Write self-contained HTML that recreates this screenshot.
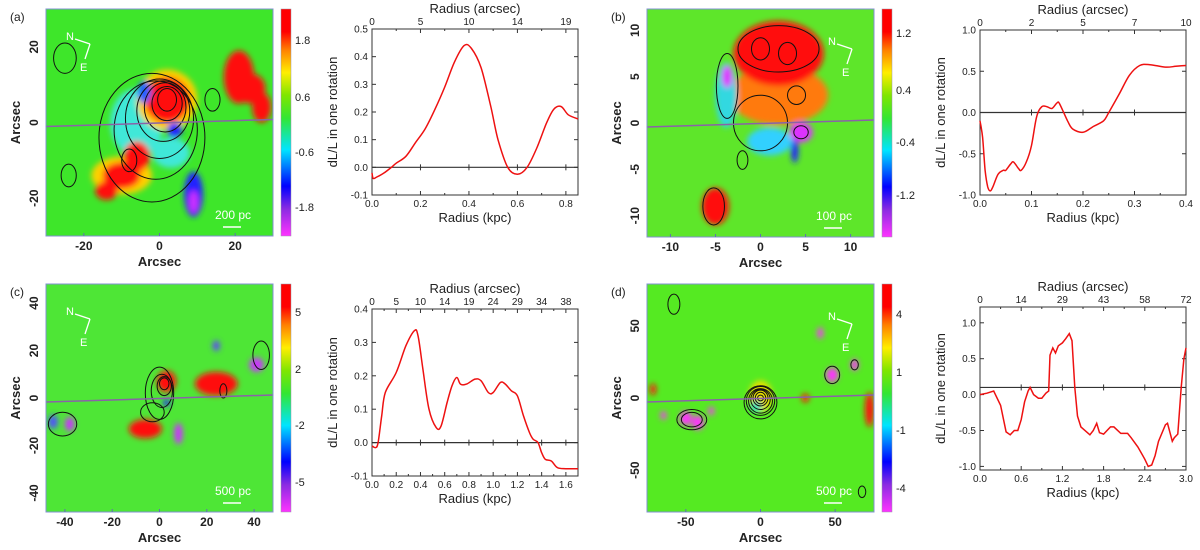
<!DOCTYPE html>
<html><head><meta charset="utf-8"><style>
html,body{margin:0;padding:0;background:#fff;}
svg{display:block;font-family:"Liberation Sans",sans-serif;}
</style></head><body>
<svg id="fig" width="1200" height="550" viewBox="0 0 1200 550" xmlns="http://www.w3.org/2000/svg">
<defs>
<filter id="blur" x="-50%" y="-50%" width="200%" height="200%"><feGaussianBlur stdDeviation="3"/></filter>
<linearGradient id="cbar" x1="0" y1="1" x2="0" y2="0">
<stop offset="0" stop-color="#ff33ff"/><stop offset="0.12" stop-color="#8a2be2"/><stop offset="0.22" stop-color="#0000ff"/>
<stop offset="0.38" stop-color="#00e5ff"/><stop offset="0.52" stop-color="#33e633"/><stop offset="0.62" stop-color="#7fe600"/>
<stop offset="0.72" stop-color="#ffee00"/><stop offset="0.82" stop-color="#ff8000"/><stop offset="0.9" stop-color="#ff0000"/><stop offset="1" stop-color="#ff0000"/>
</linearGradient>
</defs>
</svg>
<script>
const NS='http://www.w3.org/2000/svg';
const fig=document.getElementById('fig');
function mk(tag,attrs,parent,text){const e=document.createElementNS(NS,tag);for(const k in attrs)e.setAttribute(k,attrs[k]);if(text!==undefined)e.textContent=text;(parent||fig).appendChild(e);return e;}

/* ---------- line chart data ---------- */
const radiusA=[0,0.005,0.02,0.05,0.08,0.1,0.14,0.18,0.22,0.26,0.3,0.34,0.38,0.41,0.45,0.49,0.52,0.56,0.6,0.64,0.68,0.72,0.75,0.78,0.81,0.85];
const dlA=[-0.02,-0.04,-0.035,-0.02,0,0.015,0.04,0.09,0.14,0.21,0.29,0.38,0.44,0.43,0.36,0.22,0.1,0.0,-0.025,0.0,0.07,0.16,0.21,0.22,0.19,0.175];
const radiusB=[0,0.005,0.01,0.015,0.02,0.025,0.035,0.045,0.05,0.06,0.065,0.075,0.08,0.09,0.1,0.11,0.12,0.13,0.14,0.15,0.155,0.17,0.18,0.2,0.22,0.24,0.25,0.27,0.29,0.31,0.33,0.36,0.38,0.4];
const dlB=[-0.1,-0.3,-0.7,-0.9,-0.95,-0.9,-0.75,-0.7,-0.7,-0.62,-0.6,-0.68,-0.7,-0.6,-0.4,-0.05,0.07,0.07,0.05,0.12,0.1,-0.1,-0.2,-0.24,-0.17,-0.1,0,0.22,0.45,0.57,0.58,0.55,0.56,0.57];
const radiusC=[0,0.03,0.05,0.08,0.11,0.2,0.28,0.35,0.38,0.42,0.47,0.53,0.57,0.62,0.66,0.7,0.73,0.78,0.85,0.9,0.96,1.0,1.06,1.1,1.15,1.2,1.25,1.3,1.33,1.37,1.4,1.43,1.48,1.53,1.6,1.7];
const dlC=[-0.01,-0.015,0.0,0.08,0.15,0.21,0.29,0.335,0.32,0.22,0.1,0.045,0.05,0.12,0.17,0.195,0.175,0.175,0.19,0.185,0.15,0.15,0.18,0.175,0.155,0.14,0.08,0.03,0.01,0.0,-0.03,-0.05,-0.055,-0.075,-0.078,-0.078];
const radiusD=[0,0.1,0.2,0.3,0.38,0.44,0.5,0.55,0.6,0.65,0.7,0.73,0.78,0.85,0.9,0.96,1.0,1.02,1.06,1.1,1.14,1.2,1.25,1.3,1.34,1.38,1.42,1.47,1.6,1.65,1.7,1.74,1.8,1.9,1.95,2.05,2.15,2.2,2.3,2.4,2.45,2.5,2.55,2.6,2.7,2.73,2.8,2.83,2.88,2.93,2.97,3.0];
const dlD=[0,0.02,0.05,-0.15,-0.52,-0.56,-0.5,-0.5,-0.35,-0.1,0.05,0.1,0,-0.05,-0.05,0.02,0.05,0.55,0.65,0.58,0.68,0.72,0.78,0.85,0.75,0.1,-0.3,-0.45,-0.56,-0.5,-0.4,-0.53,-0.55,-0.45,-0.45,-0.54,-0.54,-0.6,-0.73,-0.9,-1.0,-0.98,-0.85,-0.65,-0.42,-0.4,-0.65,-0.6,-0.55,0.1,0.5,0.65];
const xTicksA=[0,0.2,0.4,0.6,0.8], topLabelsA=['0','5','10','14','19'], yTicksA=[-0.1,0,0.1,0.2,0.3,0.4,0.5];
const xTicksB=[0,0.1,0.2,0.3,0.4], topLabelsB=['0','2','5','7','10'], yTicksB=[-1,-0.5,0,0.5,1];
const xTicksC=[0,0.2,0.4,0.6,0.8,1.0,1.2,1.4,1.6], topLabelsC=['0','5','10','14','19','24','29','34','38'], yTicksC=[-0.1,0,0.1,0.2,0.3,0.4];
const xTicksD=[0,0.6,1.2,1.8,2.4,3.0], topLabelsD=['0','14','29','43','58','72'], yTicksD=[-1,-0.5,0,0.5,1];

function smoothPath(pts){
  let d='M'+pts[0][0].toFixed(1)+' '+pts[0][1].toFixed(1);
  for(let i=0;i<pts.length-1;i++){
    const p0=pts[Math.max(0,i-1)],p1=pts[i],p2=pts[i+1],p3=pts[Math.min(pts.length-1,i+2)];
    const c1=[p1[0]+(p2[0]-p0[0])/6,p1[1]+(p2[1]-p0[1])/6], c2=[p2[0]-(p3[0]-p1[0])/6,p2[1]-(p3[1]-p1[1])/6];
    d+=' C'+c1[0].toFixed(1)+' '+c1[1].toFixed(1)+' '+c2[0].toFixed(1)+' '+c2[1].toFixed(1)+' '+p2[0].toFixed(1)+' '+p2[1].toFixed(1);
  }
  return d;
}

function lineChart(id,box,xr,yr,xs,ys,xt,topL,yt,xdec,ydec,hline,smooth){
  const g=mk('g',{},fig);  
  const X=v=>box.x+(v-xr[0])/(xr[1]-xr[0])*box.w, Y=v=>box.y+box.h-(v-yr[0])/(yr[1]-yr[0])*box.h;
  const fr=mk('rect',{x:box.x,y:box.y,width:box.w,height:box.h,fill:'none',stroke:'#333','stroke-width':1},g);
   
  const zl=mk('line',{x1:box.x,x2:box.x+box.w,y1:Y(hline),y2:Y(hline),stroke:'#333','stroke-width':1.2},g);
   
  xt.forEach((v,i)=>{
    mk('line',{x1:X(v),x2:X(v),y1:box.y+box.h,y2:box.y+box.h-4,stroke:'#333'},g);
    mk('line',{x1:X(v),x2:X(v),y1:box.y,y2:box.y+4,stroke:'#333'},g);
    mk('line',{x1:X(v),x2:X(v),y1:Y(hline)-3,y2:Y(hline)+3,stroke:'#333'},g);
    const t=mk('text',{x:X(v),y:box.y+box.h+12,'font-size':10,'text-anchor':'middle',fill:'#222'},g,v.toFixed(xdec));
     
    const tt=mk('text',{x:X(v),y:box.y-4,'font-size':10,'text-anchor':'middle',fill:'#222'},g,topL[i]);
     
    if(i<xt.length-1){const m=(v+xt[i+1])/2;
      mk('line',{x1:X(m),x2:X(m),y1:box.y+box.h,y2:box.y+box.h-2,stroke:'#333'},g);
      mk('line',{x1:X(m),x2:X(m),y1:box.y,y2:box.y+2,stroke:'#333'},g);}
  });
  yt.forEach((v,i)=>{
    mk('line',{x1:box.x,x2:box.x+4,y1:Y(v),y2:Y(v),stroke:'#333'},g);
    mk('line',{x1:box.x+box.w,x2:box.x+box.w-4,y1:Y(v),y2:Y(v),stroke:'#333'},g);
    const t=mk('text',{x:box.x-4,y:Y(v)+3.5,'font-size':10,'text-anchor':'end',fill:'#222'},g,v.toFixed(ydec));
     
  });
  const xl=mk('text',{x:box.x+box.w/2,y:box.y+box.h+27,'font-size':13,'text-anchor':'middle',fill:'#222'},g,'Radius (kpc)');
   
  const tl=mk('text',{x:box.x+box.w/2,y:box.y-16,'font-size':13,'text-anchor':'middle',fill:'#222'},g,'Radius (arcsec)');
   
  const cx=box.x-35, cy=box.y+box.h/2;
  const yl=mk('text',{x:cx,y:cy,'font-size':13,'text-anchor':'middle',fill:'#222',transform:`rotate(-90 ${cx} ${cy})`},g,'dL/L in one rotation');
   
  const pts=xs.map((v,i)=>[X(v),Y(ys[i])]);
  const d=smooth?smoothPath(pts):pts.map((p,i)=>(i?'L':'M')+p[0].toFixed(1)+' '+p[1].toFixed(1)).join(' ');
  const p=mk('path',{d:d,fill:'none',stroke:'#ee1111','stroke-width':1.5},g);
   
}
lineChart('a',{x:372,y:29,w:206,h:166},[0,0.85],[-0.1,0.5],radiusA,dlA,xTicksA,topLabelsA,yTicksA,1,1,0,true);
lineChart('b',{x:980,y:30,w:206,h:165},[0,0.4],[-1,1],radiusB,dlB,xTicksB,topLabelsB,yTicksB,1,1,0,true);
lineChart('c',{x:372,y:309,w:206,h:167},[0,1.7],[-0.1,0.4],radiusC,dlC,xTicksC,topLabelsC,yTicksC,1,1,0,true);
lineChart('d',{x:980,y:307,w:206,h:163},[0,3.0],[-1.05,1.22],radiusD,dlD,xTicksD,topLabelsD,yTicksD,1,1,0.1,false);

/* ---------- maps ---------- */
const blobsA=[[-6,0,7,9,'#3fe8d8'],[3,-8,5,4,'#3fe8d8'],[-10,-14,8,5,'#ffd000'],[2,6,8,8,'#ffd000'],[2,6,6,6,'#ff1010'],[-6,-9,3.5,4,'#ff1010'],[-10,-14,5,3.5,'#ff1010'],[-14,-18,3,2.5,'#ff1010'],[21,12,4,7,'#ff1010'],[24,9,4,4,'#ff1010'],[27,4,2.5,4,'#ff1010'],[9,-19,2.5,6,'#2020ff'],[9,-21,1.2,3,'#cc33ff'],[4,-2,2,2,'#2020ff'],[-4,8,1.8,3,'#2060ff']];
const contA=[[2,6,2.5,3],[2,5,4,4.5],[1.5,4,5.5,6.5],[1,3,7,8],[0,1,9,10.5],[-1,-2,11,13],[-2,-4,14,17],[-25,17,3,4],[-24,-14,2,3],[14,6,2,3],[-8,-10,2,3]];
const blobsB=[[2,3,5.5,3.2,'#ff7a10'],[2,7.5,5,3.5,'#ff1010'],[-5,-9,1.5,2,'#ff1010'],[1,-2,2.5,1.5,'#30d0ff'],[4.5,-1,1.3,1.1,'#dd33ff'],[-3.8,3,1.2,3.5,'#30d8e0'],[-3.7,5,0.6,1.2,'#dd33ff'],[3.8,-3,0.4,1.3,'#2020ff']];
const contB=[[0,8,1,1.2],[3,7.5,1,1.2],[2,8,4.5,2.5],[4,3,1,1],[4.5,-1,0.8,0.7],[-3.7,4,1.2,3.5],[0,0,3,3],[-2,-4,0.6,1],[-5.2,-9,1.2,2]];
const blobsC=[[-6,-13,7,4,'#ff1010'],[3,7,4,4.5,'#ff1010'],[24,6,9,5,'#ff1010'],[8,-15,1.8,4.5,'#cc33ff'],[24,22,1.5,2.2,'#6040ff'],[41,14,3,3,'#cc33ff'],[-45,-10,2,3,'#5050ff'],[-38,-11,2,3,'#cc33ff'],[3,-2,1.5,1.5,'#2020ff']];
const contC=[[0,2,6,11],[1,3,4.5,7],[2,5,3,4],[2,6,2,2.5],[-3,-6,5,4],[-41,-11,6,5],[43,18,3.5,6],[27,3,1.5,3]];
const blobsD=[[0,1,8,11,'#e8e000'],[-3,-6,4,4,'#40e0c0'],[-50,-14,4,5,'#ff33ff'],[-42,-17,4,5,'#ff33ff'],[48,16,4,5,'#ff33ff'],[63,23,2.5,4,'#ff33ff'],[40,45,2,4,'#ff33ff'],[30,0,2.5,3,'#ff1010'],[73,-8,3,12,'#ff1010'],[-72,6,2,4,'#ff1010'],[-65,-12,2,3,'#ff33ff'],[-33,-9,2,3,'#ff33ff']];
const contD=[[0,0,2,2],[0,0,3.5,4],[0,0,5,5.5],[0,-1,6.5,7],[0,-2,8,8.5],[0,-2,9.5,10],[0,-3,11,11.5],[-46,-15,10,7],[-46,-15,7,5],[48,16,5,6],[63,23,2.5,3.5],[-58,65,4,7],[68,-65,2.5,4]];

function mapPanel(id,box,xr,yr,xt,ytk,blobs,conts,bg,cbLabels,cbPos,scaleText,letter){
  const g=mk('g',{},fig);  
  const X=v=>box.x+(v-xr[0])/(xr[1]-xr[0])*box.w, Y=v=>box.y+box.h-(v-yr[0])/(yr[1]-yr[0])*box.h;
  const sx=box.w/(xr[1]-xr[0]), sy=box.h/(yr[1]-yr[0]);
  const clipId='clip'+id; const cp=mk('clipPath',{id:clipId},g); mk('rect',{x:box.x,y:box.y,width:box.w,height:box.h},cp);
  const inner=mk('g',{'clip-path':`url(#${clipId})`},g);
  const bgR=mk('rect',{x:box.x,y:box.y,width:box.w,height:box.h,fill:bg},inner);
   
  const bl=mk('g',{filter:'url(#blur)'},inner);
  blobs.forEach(b=>{const e=mk('ellipse',{cx:X(b[0]),cy:Y(b[1]),rx:b[2]*sx,ry:b[3]*sy,fill:b[4]},bl);
     });
  conts.forEach(c=>{const e=mk('ellipse',{cx:X(c[0]),cy:Y(c[1]),rx:c[2]*sx,ry:c[3]*sy,fill:'none',stroke:'#111','stroke-width':1},inner);
     });
  const ln=mk('line',{x1:box.x,y1:box.y+box.h/2+4,x2:box.x+box.w,y2:box.y+box.h/2-3,stroke:'#8a62a8','stroke-width':1.5},inner);
   
  const cg=mk('g',{},inner);  
  const isRight=(id==='b'||id==='d'); const ox=isRight?box.x+box.w-40:box.x+26, oy=box.y+(isRight?30:25);
  mk('line',{x1:ox+18,y1:oy+10,x2:ox+3,y2:oy+5,stroke:'#fff','stroke-width':1.3},cg);
  mk('line',{x1:ox+18,y1:oy+10,x2:ox+13,y2:oy+25,stroke:'#fff','stroke-width':1.3},cg);
  mk('text',{x:ox-6,y:oy+6,'font-size':11,fill:'#fff'},cg,'N');
  mk('text',{x:ox+8,y:oy+37,'font-size':11,fill:'#fff'},cg,'E');
  const st=mk('text',{x:box.x+box.w-40,y:box.y+box.h-17,'font-size':12,fill:'#fff','text-anchor':'middle'},inner,scaleText);
   
  mk('line',{x1:box.x+box.w-50,x2:box.x+box.w-32,y1:box.y+box.h-9,y2:box.y+box.h-9,stroke:'#fff','stroke-width':1.5},inner);
  const fr=mk('rect',{x:box.x,y:box.y,width:box.w,height:box.h,fill:'none',stroke:'#8090d0','stroke-width':1},g);
   
  xt.forEach(v=>{mk('line',{x1:X(v),x2:X(v),y1:box.y+box.h,y2:box.y+box.h-3,stroke:'#6070b0'},g);
    const t=mk('text',{x:X(v),y:box.y+box.h+14,'font-size':12,'font-weight':'bold','text-anchor':'middle',fill:'#222'},g,String(v));
     });
  ytk.forEach(v=>{const cx=box.x-8, cy=Y(v);
    const t=mk('text',{x:cx,y:cy,'font-size':12,'font-weight':'bold','text-anchor':'middle',fill:'#222',transform:`rotate(-90 ${cx} ${cy})`},g,String(v));
     });
  const xl=mk('text',{x:box.x+box.w/2,y:box.y+box.h+30,'font-size':13,'font-weight':'bold','text-anchor':'middle',fill:'#222'},g,'Arcsec');
   
  const cx=box.x-26, cy=box.y+box.h/2;
  const yl=mk('text',{x:cx,y:cy,'font-size':13,'font-weight':'bold','text-anchor':'middle',fill:'#222',transform:`rotate(-90 ${cx} ${cy})`},g,'Arcsec');
   
  const lt=mk('text',{x:box.x-36,y:box.y+12,'font-size':12,fill:'#222'},g,'('+letter+')');
   
  const cb=mk('rect',{x:box.x+box.w+8,y:box.y,width:10,height:box.h,fill:'url(#cbar)',stroke:'#99a','stroke-width':0.5},g);
   
  cbLabels.forEach((l,i)=>{const t=mk('text',{x:box.x+box.w+22,y:cbPos[i]+4,'font-size':11,fill:'#222'},g,l);
     });
}
mapPanel('a',{x:46,y:9,w:227,h:227},[-30,30],[-30,30],[-20,0,20],[20,0,-20],blobsA,contA,'#3ee62a',['1.8','0.6','-0.6','-1.8'],[40,97,152,207],'200 pc','a');
mapPanel('b',{x:647,y:9,w:227,h:228},[-12.6,12.6],[-12.3,12.3],[-10,-5,0,5,10],[10,5,0,-5,-10],blobsB,contB,'#5ee62a',['1.2','0.4','-0.4','-1.2'],[33,90,142,195],'100 pc','b');
mapPanel('c',{x:46,y:284,w:227,h:228},[-48,48],[-48,48],[-40,-20,0,20,40],[40,20,0,-20,-40],blobsC,contC,'#4ee636',['5','2','-2','-5'],[312,369,425,482],'500 pc','c');
mapPanel('d',{x:647,y:284,w:227,h:228},[-76,76],[-79,79],[-50,0,50],[50,0,-50],blobsD,contD,'#55ea22',['4','1','-1','-4'],[314,372,430,488],'500 pc','d');
</script>
</body></html>
